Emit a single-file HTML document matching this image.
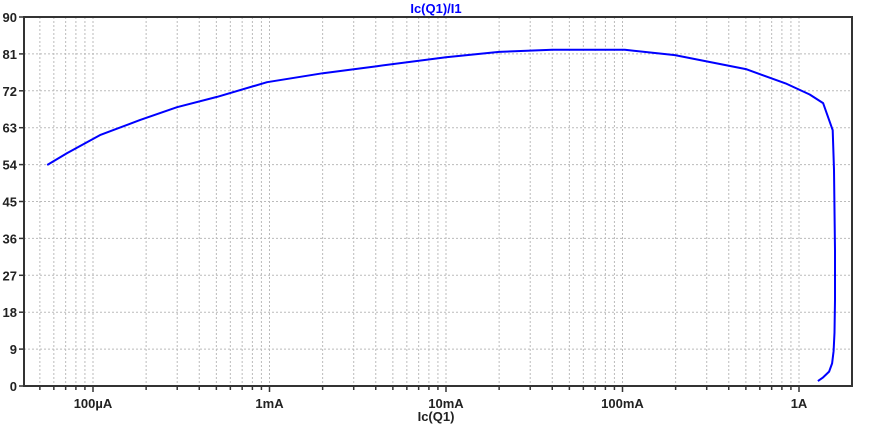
<!DOCTYPE html>
<html><head><meta charset="utf-8"><style>
body{margin:0;background:#fff;}
svg text{font-family:"Liberation Sans",sans-serif;font-weight:bold;font-size:13px;fill:#222;}
</style></head><body>
<svg id="chart" width="874" height="427">
<g id="grid"></g><g id="axes"></g>
<text x="436" y="13" text-anchor="middle" style="fill:#0000ff">Ic(Q1)/I1</text>
<text x="436" y="421" text-anchor="middle">Ic(Q1)</text>
</svg>
<script>
const currents=[5.5e-5,7.13e-5,1.095e-4,1.85e-4,2.99e-4,5.04e-4,9.68e-4,2.01e-3,4.06e-3,0.01,0.02,0.04,0.103,0.198,0.5,0.84,1.15,1.37,1.553,1.578,1.6,1.6,1.59,1.57,1.54,1.48,1.37,1.28];
const ratios=[53.9,56.8,61.2,64.9,68,70.5,74.1,76.3,78,80.2,81.5,82,82,80.7,77.3,73.8,71.1,69,62.4,52.7,33,21,13,8.5,5.5,3.5,2.1,1.2];
const yTicks=[0,9,18,27,36,45,54,63,72,81,90];
const xLabels=[[1e-4,"100µA"],[1e-3,"1mA"],[1e-2,"10mA"],[1e-1,"100mA"],[1,"1A"]];
const L=24,R=852,T=17,B=386,dec=176.5,x1A=799;
const X=v=>x1A+Math.log10(v)*dec;
const Y=v=>B-(v/90)*(B-T);
const NS="http://www.w3.org/2000/svg";
const g=document.getElementById('grid'),a=document.getElementById('axes'),svg=document.getElementById('chart');
function mk(tag,at,p){const e=document.createElementNS(NS,tag);for(const k in at)e.setAttribute(k,at[k]);(p||g).appendChild(e);return e;}
for(let d=-5;d<=0;d++)for(let m=1;m<=9;m++){const v=m*Math.pow(10,d);const x=X(v);if(x<=L||x>=R)continue;
 const l=mk('line',{x1:x,x2:x,y1:T,y2:B,stroke:'#bbb','stroke-dasharray':'2,2'});
 
 
 const t=mk('line',{x1:x,x2:x,y1:B,y2:B+(m==1?6:4),stroke:'#333','stroke-width':1.5},a);
 
 }
yTicks.forEach(v=>{const y=Y(v);
 if(v>0&&v<90){const l=mk('line',{x1:L,x2:R,y1:y,y2:y,stroke:'#bbb','stroke-dasharray':'2,2'});
 
 }
 const t=mk('line',{x1:L-5,x2:L,y1:y,y2:y,stroke:'#333','stroke-width':1.5},a);
 
 
 const tx=mk('text',{x:L-7,y:y+5,'text-anchor':'end'},a);tx.textContent=v;
 
 });
xLabels.forEach(([v,s])=>{const tx=mk('text',{x:X(v),y:408,'text-anchor':'middle'},a);tx.textContent=s;
 
 });
const fr=mk('rect',{x:L,y:T,width:R-L,height:B-T,fill:'none',stroke:'#333','stroke-width':2},a);


const pts=currents.map((c,i)=>X(c).toFixed(1)+','+Y(ratios[i]).toFixed(1)).join(' ');
const pl=mk('polyline',{points:pts,fill:'none',stroke:'#0000ff','stroke-width':2,'stroke-linejoin':'round'},svg);


</script>
</body></html>
